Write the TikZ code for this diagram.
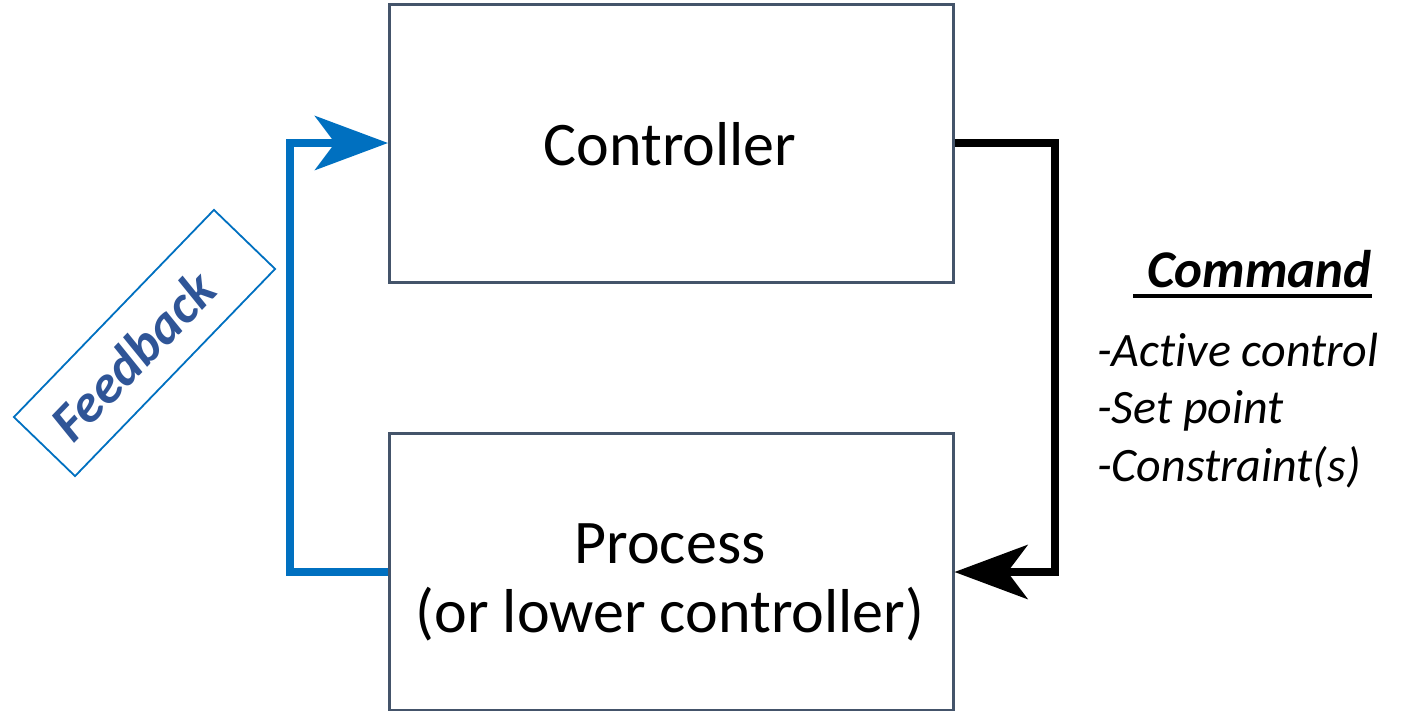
\documentclass[tikz,border=0pt]{standalone}
\usepackage{fontspec}
\setmainfont{Carlito}[Ligatures=CommonOff]
\usetikzlibrary{arrows.meta}
\definecolor{boxedge}{HTML}{44546A}
\definecolor{fbblue}{HTML}{0070C0}
\definecolor{fbtext}{HTML}{2F5597}
\tikzset{
  block/.style={draw=boxedge, line width=2.5pt, minimum width=564pt, inner sep=0pt},
  bigtext/.style={font=\fontsize{62}{70}\selectfont, align=center},
  link/.style={line width=8pt, -{Stealth[length=73pt, width=54pt, inset=20pt]}},
}
\begin{document}
\begin{tikzpicture}[x=1pt, y=-1pt]
  \useasboundingbox (0,0) rectangle (1407,710);

  % main blocks
  \node[block, minimum height=278pt, anchor=north west] (ctrl) at (388,3) {};
  \node[block, minimum height=277pt, anchor=north west] (proc) at (388,432) {};

  \node[bigtext, anchor=base] (ctrltxt) at (670,165) {Controller};
  \node[bigtext, anchor=base] (proctxt1) at (670,563) {Process};
  \node[bigtext, anchor=base] (proctxt2) at (670,632) {(or lower controller)};

  % connector corners
  \coordinate (fbA) at (290,572);
  \coordinate (fbB) at (290,143);
  \coordinate (cmA) at (1055,143);
  \coordinate (cmB) at (1055,572);

  % feedback path
  \draw[link, fbblue, line join=miter] (proc.west |- fbA) -- (fbA) -- (fbB) -- (ctrl.west |- fbB);
  % command path
  \draw[link, black, line join=miter] (ctrl.east |- cmA) -- (cmA) -- (cmB) -- (proc.east |- cmB);

  % feedback tag: tilted frame with its label set slightly towards the lower end
  \node[draw=fbblue, line width=1.8pt, rotate=46, minimum width=288pt, minimum height=85pt] (fbtag) at (144.5,343) {};
  \node[rotate=46, font=\fontsize{54}{60}\selectfont\bfseries\itshape, text=fbtext] (fblabel) at (133,356) {Feedback};

  % command label, underlined with a short lead-in
  \node[anchor=base west, font=\fontsize{53}{60}\selectfont\bfseries\itshape, inner sep=0pt] (cmdhead) at (1147,287)
    {Command};
  \draw[line width=4pt] ([xshift=-14pt, yshift=-9pt]cmdhead.base west) -- ([yshift=-9pt]cmdhead.base east);
  \node[anchor=base west, font=\fontsize{48}{57.5}\selectfont\itshape, align=left, inner sep=0pt] (cmdlist) at (1097,481)
    {-Active control\\-Set point\\-Constraint(s)};
\end{tikzpicture}
\end{document}
